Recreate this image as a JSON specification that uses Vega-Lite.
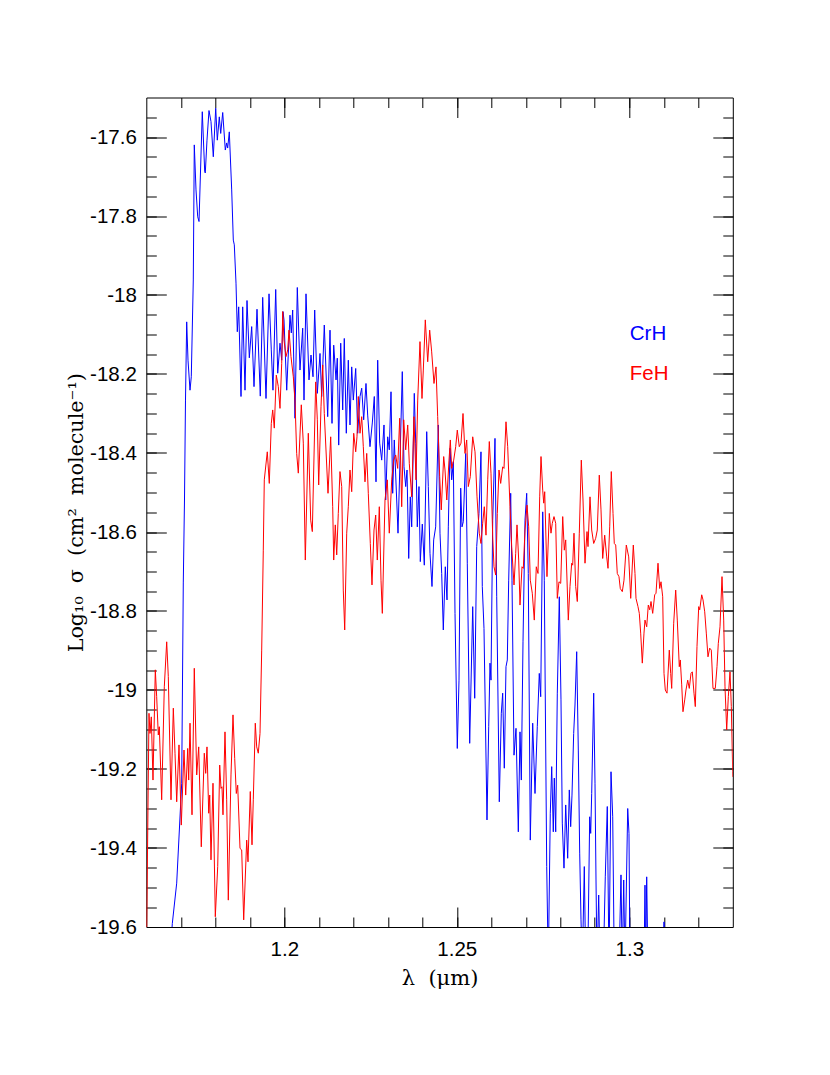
{
"$schema": "https://vega.github.io/schema/vega-lite/v6.json",
"width": 586.5,
"height": 829.5,
"autosize": {"type": "none"},
"padding": {"left": 146.3, "top": 97.5, "right": 97.2, "bottom": 148},
"background": "white",
"config": {
  "view": {"stroke": "black", "strokeWidth": 1},
  "axis": {"domain": false, "grid": false, "tickColor": "black", "tickWidth": 1, "labelColor": "black", "titleColor": "black"},
  "locale": {"number": {"decimal": ".", "thousands": ",", "grouping": [3], "currency": ["$", ""], "minus": "-"}}
},
"datasets": {
"spectra": [
{"molecule":"CrH","wavelength":1.1667,"logsigma":-19.7},
{"molecule":"CrH","wavelength":1.16754,"logsigma":-19.591},
{"molecule":"CrH","wavelength":1.16881,"logsigma":-19.489},
{"molecule":"CrH","wavelength":1.17026,"logsigma":-19.236},
{"molecule":"CrH","wavelength":1.17072,"logsigma":-18.729},
{"molecule":"CrH","wavelength":1.17107,"logsigma":-18.519},
{"molecule":"CrH","wavelength":1.17136,"logsigma":-18.266},
{"molecule":"CrH","wavelength":1.17171,"logsigma":-18.068},
{"molecule":"CrH","wavelength":1.17209,"logsigma":-18.165},
{"molecule":"CrH","wavelength":1.17267,"logsigma":-18.241},
{"molecule":"CrH","wavelength":1.17304,"logsigma":-18.207},
{"molecule":"CrH","wavelength":1.17362,"logsigma":-17.962},
{"molecule":"CrH","wavelength":1.17391,"logsigma":-17.62},
{"molecule":"CrH","wavelength":1.17441,"logsigma":-17.734},
{"molecule":"CrH","wavelength":1.1749,"logsigma":-17.802},
{"molecule":"CrH","wavelength":1.17528,"logsigma":-17.814},
{"molecule":"CrH","wavelength":1.17623,"logsigma":-17.536},
{"molecule":"CrH","wavelength":1.17693,"logsigma":-17.688},
{"molecule":"CrH","wavelength":1.1771,"logsigma":-17.691},
{"molecule":"CrH","wavelength":1.17759,"logsigma":-17.608},
{"molecule":"CrH","wavelength":1.17817,"logsigma":-17.533},
{"molecule":"CrH","wavelength":1.17875,"logsigma":-17.561},
{"molecule":"CrH","wavelength":1.17942,"logsigma":-17.65},
{"molecule":"CrH","wavelength":1.18012,"logsigma":-17.527},
{"molecule":"CrH","wavelength":1.18058,"logsigma":-17.608},
{"molecule":"CrH","wavelength":1.18116,"logsigma":-17.549},
{"molecule":"CrH","wavelength":1.18157,"logsigma":-17.591},
{"molecule":"CrH","wavelength":1.18215,"logsigma":-17.538},
{"molecule":"CrH","wavelength":1.1829,"logsigma":-17.633},
{"molecule":"CrH","wavelength":1.1833,"logsigma":-17.615},
{"molecule":"CrH","wavelength":1.18359,"logsigma":-17.628},
{"molecule":"CrH","wavelength":1.18406,"logsigma":-17.587},
{"molecule":"CrH","wavelength":1.18475,"logsigma":-17.734},
{"molecule":"CrH","wavelength":1.18522,"logsigma":-17.861},
{"molecule":"CrH","wavelength":1.18551,"logsigma":-17.873},
{"molecule":"CrH","wavelength":1.186,"logsigma":-17.97},
{"molecule":"CrH","wavelength":1.18638,"logsigma":-18.093},
{"molecule":"CrH","wavelength":1.18678,"logsigma":-18.03},
{"molecule":"CrH","wavelength":1.18745,"logsigma":-18.257},
{"molecule":"CrH","wavelength":1.18794,"logsigma":-18.03},
{"molecule":"CrH","wavelength":1.18861,"logsigma":-18.241},
{"molecule":"CrH","wavelength":1.18919,"logsigma":-18.014},
{"molecule":"CrH","wavelength":1.18986,"logsigma":-18.159},
{"molecule":"CrH","wavelength":1.19055,"logsigma":-18.08},
{"molecule":"CrH","wavelength":1.19122,"logsigma":-18.232},
{"molecule":"CrH","wavelength":1.19209,"logsigma":-18.036},
{"molecule":"CrH","wavelength":1.19304,"logsigma":-18.256},
{"molecule":"CrH","wavelength":1.19374,"logsigma":-18.006},
{"molecule":"CrH","wavelength":1.1947,"logsigma":-18.262},
{"molecule":"CrH","wavelength":1.19557,"logsigma":-17.997},
{"molecule":"CrH","wavelength":1.19623,"logsigma":-18.139},
{"molecule":"CrH","wavelength":1.19672,"logsigma":-18.241},
{"molecule":"CrH","wavelength":1.19751,"logsigma":-17.986},
{"molecule":"CrH","wavelength":1.19809,"logsigma":-18.198},
{"molecule":"CrH","wavelength":1.19875,"logsigma":-18.122},
{"molecule":"CrH","wavelength":1.19925,"logsigma":-18.165},
{"molecule":"CrH","wavelength":1.19962,"logsigma":-18.042},
{"molecule":"CrH","wavelength":1.19991,"logsigma":-18.063},
{"molecule":"CrH","wavelength":1.2007,"logsigma":-18.241},
{"molecule":"CrH","wavelength":1.20165,"logsigma":-18.051},
{"molecule":"CrH","wavelength":1.20203,"logsigma":-18.096},
{"molecule":"CrH","wavelength":1.20243,"logsigma":-18.038},
{"molecule":"CrH","wavelength":1.2031,"logsigma":-18.312},
{"molecule":"CrH","wavelength":1.20377,"logsigma":-17.981},
{"molecule":"CrH","wavelength":1.20455,"logsigma":-18.19},
{"molecule":"CrH","wavelength":1.20533,"logsigma":-18.084},
{"molecule":"CrH","wavelength":1.20571,"logsigma":-18.266},
{"molecule":"CrH","wavelength":1.20629,"logsigma":-17.997},
{"molecule":"CrH","wavelength":1.20716,"logsigma":-18.215},
{"molecule":"CrH","wavelength":1.20774,"logsigma":-18.152},
{"molecule":"CrH","wavelength":1.20832,"logsigma":-18.207},
{"molecule":"CrH","wavelength":1.20881,"logsigma":-18.038},
{"molecule":"CrH","wavelength":1.20957,"logsigma":-18.249},
{"molecule":"CrH","wavelength":1.21035,"logsigma":-18.148},
{"molecule":"CrH","wavelength":1.21084,"logsigma":-18.257},
{"molecule":"CrH","wavelength":1.21159,"logsigma":-18.076},
{"molecule":"CrH","wavelength":1.21258,"logsigma":-18.308},
{"molecule":"CrH","wavelength":1.21325,"logsigma":-18.089},
{"molecule":"CrH","wavelength":1.21383,"logsigma":-18.325},
{"molecule":"CrH","wavelength":1.21432,"logsigma":-18.127},
{"molecule":"CrH","wavelength":1.21499,"logsigma":-18.215},
{"molecule":"CrH","wavelength":1.21536,"logsigma":-18.16},
{"molecule":"CrH","wavelength":1.21577,"logsigma":-18.38},
{"molecule":"CrH","wavelength":1.21635,"logsigma":-18.122},
{"molecule":"CrH","wavelength":1.21693,"logsigma":-18.291},
{"molecule":"CrH","wavelength":1.21739,"logsigma":-18.11},
{"molecule":"CrH","wavelength":1.21797,"logsigma":-18.35},
{"molecule":"CrH","wavelength":1.21855,"logsigma":-18.165},
{"molecule":"CrH","wavelength":1.21904,"logsigma":-18.329},
{"molecule":"CrH","wavelength":1.21954,"logsigma":-18.182},
{"molecule":"CrH","wavelength":1.22,"logsigma":-18.266},
{"molecule":"CrH","wavelength":1.2207,"logsigma":-18.186},
{"molecule":"CrH","wavelength":1.22128,"logsigma":-18.35},
{"molecule":"CrH","wavelength":1.22194,"logsigma":-18.257},
{"molecule":"CrH","wavelength":1.22244,"logsigma":-18.236},
{"molecule":"CrH","wavelength":1.22301,"logsigma":-18.316},
{"molecule":"CrH","wavelength":1.22368,"logsigma":-18.224},
{"molecule":"CrH","wavelength":1.22417,"logsigma":-18.304},
{"molecule":"CrH","wavelength":1.22484,"logsigma":-18.384},
{"molecule":"CrH","wavelength":1.22551,"logsigma":-18.324},
{"molecule":"CrH","wavelength":1.22609,"logsigma":-18.257},
{"molecule":"CrH","wavelength":1.22658,"logsigma":-18.473},
{"molecule":"CrH","wavelength":1.22707,"logsigma":-18.165},
{"molecule":"CrH","wavelength":1.22765,"logsigma":-18.375},
{"molecule":"CrH","wavelength":1.22823,"logsigma":-18.418},
{"molecule":"CrH","wavelength":1.2289,"logsigma":-18.329},
{"molecule":"CrH","wavelength":1.22939,"logsigma":-18.519},
{"molecule":"CrH","wavelength":1.22997,"logsigma":-18.359},
{"molecule":"CrH","wavelength":1.23043,"logsigma":-18.392},
{"molecule":"CrH","wavelength":1.23093,"logsigma":-18.245},
{"molecule":"CrH","wavelength":1.23142,"logsigma":-18.502},
{"molecule":"CrH","wavelength":1.23188,"logsigma":-18.367},
{"molecule":"CrH","wavelength":1.23258,"logsigma":-18.519},
{"molecule":"CrH","wavelength":1.23296,"logsigma":-18.603},
{"molecule":"CrH","wavelength":1.23354,"logsigma":-18.418},
{"molecule":"CrH","wavelength":1.2342,"logsigma":-18.194},
{"molecule":"CrH","wavelength":1.2347,"logsigma":-18.435},
{"molecule":"CrH","wavelength":1.23519,"logsigma":-18.485},
{"molecule":"CrH","wavelength":1.23557,"logsigma":-18.443},
{"molecule":"CrH","wavelength":1.23606,"logsigma":-18.667},
{"molecule":"CrH","wavelength":1.23652,"logsigma":-18.511},
{"molecule":"CrH","wavelength":1.23693,"logsigma":-18.587},
{"molecule":"CrH","wavelength":1.23768,"logsigma":-18.249},
{"molecule":"CrH","wavelength":1.23809,"logsigma":-18.375},
{"molecule":"CrH","wavelength":1.23855,"logsigma":-18.587},
{"molecule":"CrH","wavelength":1.23904,"logsigma":-18.485},
{"molecule":"CrH","wavelength":1.23942,"logsigma":-18.675},
{"molecule":"CrH","wavelength":1.24,"logsigma":-18.58},
{"molecule":"CrH","wavelength":1.24058,"logsigma":-18.684},
{"molecule":"CrH","wavelength":1.24128,"logsigma":-18.346},
{"molecule":"CrH","wavelength":1.24174,"logsigma":-18.485},
{"molecule":"CrH","wavelength":1.24223,"logsigma":-18.654},
{"molecule":"CrH","wavelength":1.24281,"logsigma":-18.738},
{"molecule":"CrH","wavelength":1.2433,"logsigma":-18.62},
{"molecule":"CrH","wavelength":1.24388,"logsigma":-18.587},
{"molecule":"CrH","wavelength":1.24464,"logsigma":-18.329},
{"molecule":"CrH","wavelength":1.24513,"logsigma":-18.603},
{"molecule":"CrH","wavelength":1.24562,"logsigma":-18.705},
{"molecule":"CrH","wavelength":1.24609,"logsigma":-18.848},
{"molecule":"CrH","wavelength":1.24667,"logsigma":-18.688},
{"molecule":"CrH","wavelength":1.24716,"logsigma":-18.772},
{"molecule":"CrH","wavelength":1.24754,"logsigma":-18.587},
{"molecule":"CrH","wavelength":1.24803,"logsigma":-18.388},
{"molecule":"CrH","wavelength":1.24852,"logsigma":-18.468},
{"molecule":"CrH","wavelength":1.24899,"logsigma":-18.422},
{"molecule":"CrH","wavelength":1.24948,"logsigma":-18.806},
{"molecule":"CrH","wavelength":1.25014,"logsigma":-19.148},
{"molecule":"CrH","wavelength":1.25064,"logsigma":-18.975},
{"molecule":"CrH","wavelength":1.25113,"logsigma":-18.489},
{"molecule":"CrH","wavelength":1.25151,"logsigma":-18.587},
{"molecule":"CrH","wavelength":1.25188,"logsigma":-18.574},
{"molecule":"CrH","wavelength":1.25258,"logsigma":-18.401},
{"molecule":"CrH","wavelength":1.25304,"logsigma":-18.679},
{"molecule":"CrH","wavelength":1.25374,"logsigma":-19.135},
{"molecule":"CrH","wavelength":1.25461,"logsigma":-18.789},
{"molecule":"CrH","wavelength":1.25519,"logsigma":-19.021},
{"molecule":"CrH","wavelength":1.25577,"logsigma":-18.637},
{"molecule":"CrH","wavelength":1.25643,"logsigma":-18.553},
{"molecule":"CrH","wavelength":1.25701,"logsigma":-18.397},
{"molecule":"CrH","wavelength":1.25739,"logsigma":-18.738},
{"molecule":"CrH","wavelength":1.25788,"logsigma":-18.844},
{"molecule":"CrH","wavelength":1.25875,"logsigma":-19.329},
{"molecule":"CrH","wavelength":1.25925,"logsigma":-19.093},
{"molecule":"CrH","wavelength":1.25962,"logsigma":-18.932},
{"molecule":"CrH","wavelength":1.25991,"logsigma":-18.975},
{"molecule":"CrH","wavelength":1.26041,"logsigma":-18.57},
{"molecule":"CrH","wavelength":1.26107,"logsigma":-18.363},
{"molecule":"CrH","wavelength":1.26157,"logsigma":-18.764},
{"molecule":"CrH","wavelength":1.26232,"logsigma":-19.283},
{"molecule":"CrH","wavelength":1.2629,"logsigma":-19.059},
{"molecule":"CrH","wavelength":1.2633,"logsigma":-19.008},
{"molecule":"CrH","wavelength":1.26377,"logsigma":-19.198},
{"molecule":"CrH","wavelength":1.26426,"logsigma":-18.941},
{"molecule":"CrH","wavelength":1.26464,"logsigma":-18.924},
{"molecule":"CrH","wavelength":1.26504,"logsigma":-18.722},
{"molecule":"CrH","wavelength":1.26562,"logsigma":-18.502},
{"molecule":"CrH","wavelength":1.266,"logsigma":-18.722},
{"molecule":"CrH","wavelength":1.26658,"logsigma":-19.165},
{"molecule":"CrH","wavelength":1.26716,"logsigma":-19.097},
{"molecule":"CrH","wavelength":1.26783,"logsigma":-19.359},
{"molecule":"CrH","wavelength":1.26832,"logsigma":-19.106},
{"molecule":"CrH","wavelength":1.2687,"logsigma":-19.228},
{"molecule":"CrH","wavelength":1.26919,"logsigma":-18.878},
{"molecule":"CrH","wavelength":1.26977,"logsigma":-18.57},
{"molecule":"CrH","wavelength":1.27026,"logsigma":-18.502},
{"molecule":"CrH","wavelength":1.27072,"logsigma":-18.705},
{"molecule":"CrH","wavelength":1.2713,"logsigma":-19.38},
{"molecule":"CrH","wavelength":1.272,"logsigma":-19.084},
{"molecule":"CrH","wavelength":1.27267,"logsigma":-19.262},
{"molecule":"CrH","wavelength":1.27333,"logsigma":-19.093},
{"molecule":"CrH","wavelength":1.27391,"logsigma":-18.958},
{"molecule":"CrH","wavelength":1.27432,"logsigma":-19.017},
{"molecule":"CrH","wavelength":1.2749,"logsigma":-18.549},
{"molecule":"CrH","wavelength":1.27536,"logsigma":-18.722},
{"molecule":"CrH","wavelength":1.27606,"logsigma":-19.447},
{"molecule":"CrH","wavelength":1.27652,"logsigma":-19.7},
{"molecule":"CrH","wavelength":1.2771,"logsigma":-19.312},
{"molecule":"CrH","wavelength":1.27751,"logsigma":-19.194},
{"molecule":"CrH","wavelength":1.27797,"logsigma":-19.359},
{"molecule":"CrH","wavelength":1.27826,"logsigma":-19.223},
{"molecule":"CrH","wavelength":1.27867,"logsigma":-19.359},
{"molecule":"CrH","wavelength":1.27913,"logsigma":-19.008},
{"molecule":"CrH","wavelength":1.27971,"logsigma":-18.764},
{"molecule":"CrH","wavelength":1.2802,"logsigma":-19.025},
{"molecule":"CrH","wavelength":1.28058,"logsigma":-19.337},
{"molecule":"CrH","wavelength":1.28107,"logsigma":-19.451},
{"molecule":"CrH","wavelength":1.28157,"logsigma":-19.291},
{"molecule":"CrH","wavelength":1.28214,"logsigma":-19.426},
{"molecule":"CrH","wavelength":1.28261,"logsigma":-19.253},
{"molecule":"CrH","wavelength":1.28301,"logsigma":-19.346},
{"molecule":"CrH","wavelength":1.28339,"logsigma":-19.266},
{"molecule":"CrH","wavelength":1.28388,"logsigma":-19.11},
{"molecule":"CrH","wavelength":1.28426,"logsigma":-19.038},
{"molecule":"CrH","wavelength":1.28475,"logsigma":-18.903},
{"molecule":"CrH","wavelength":1.28522,"logsigma":-19.152},
{"molecule":"CrH","wavelength":1.28562,"logsigma":-19.413},
{"molecule":"CrH","wavelength":1.286,"logsigma":-19.582},
{"molecule":"CrH","wavelength":1.28638,"logsigma":-19.7},
{"molecule":"CrH","wavelength":1.28696,"logsigma":-19.447},
{"molecule":"CrH","wavelength":1.28736,"logsigma":-19.7},
{"molecule":"CrH","wavelength":1.28794,"logsigma":-19.7},
{"molecule":"CrH","wavelength":1.28852,"logsigma":-19.321},
{"molecule":"CrH","wavelength":1.28881,"logsigma":-19.363},
{"molecule":"CrH","wavelength":1.2891,"logsigma":-19.262},
{"molecule":"CrH","wavelength":1.28968,"logsigma":-19.008},
{"molecule":"CrH","wavelength":1.29006,"logsigma":-19.236},
{"molecule":"CrH","wavelength":1.29035,"logsigma":-19.481},
{"molecule":"CrH","wavelength":1.29064,"logsigma":-19.7},
{"molecule":"CrH","wavelength":1.29113,"logsigma":-19.519},
{"molecule":"CrH","wavelength":1.29151,"logsigma":-19.7},
{"molecule":"CrH","wavelength":1.29246,"logsigma":-19.7},
{"molecule":"CrH","wavelength":1.29304,"logsigma":-19.473},
{"molecule":"CrH","wavelength":1.29362,"logsigma":-19.295},
{"molecule":"CrH","wavelength":1.29412,"logsigma":-19.7},
{"molecule":"CrH","wavelength":1.2947,"logsigma":-19.207},
{"molecule":"CrH","wavelength":1.29519,"logsigma":-19.321},
{"molecule":"CrH","wavelength":1.29565,"logsigma":-19.7},
{"molecule":"CrH","wavelength":1.29701,"logsigma":-19.7},
{"molecule":"CrH","wavelength":1.29759,"logsigma":-19.468},
{"molecule":"CrH","wavelength":1.29797,"logsigma":-19.7},
{"molecule":"CrH","wavelength":1.29838,"logsigma":-19.481},
{"molecule":"CrH","wavelength":1.29875,"logsigma":-19.7},
{"molecule":"CrH","wavelength":1.29954,"logsigma":-19.3},
{"molecule":"CrH","wavelength":1.29991,"logsigma":-19.363},
{"molecule":"CrH","wavelength":1.3002,"logsigma":-19.7},
{"molecule":"CrH","wavelength":1.30426,"logsigma":-19.7},
{"molecule":"CrH","wavelength":1.30455,"logsigma":-19.494},
{"molecule":"CrH","wavelength":1.30475,"logsigma":-19.7},
{"molecule":"CrH","wavelength":1.30504,"logsigma":-19.473},
{"molecule":"CrH","wavelength":1.30542,"logsigma":-19.7},
{"molecule":"CrH","wavelength":1.30977,"logsigma":-19.7},
{"molecule":"CrH","wavelength":1.31006,"logsigma":-19.587},
{"molecule":"CrH","wavelength":1.31035,"logsigma":-19.7},
{"molecule":"FeH","wavelength":1.16,"logsigma":-19.7},
{"molecule":"FeH","wavelength":1.16078,"logsigma":-19.059},
{"molecule":"FeH","wavelength":1.16107,"logsigma":-19.11},
{"molecule":"FeH","wavelength":1.16145,"logsigma":-19.068},
{"molecule":"FeH","wavelength":1.16194,"logsigma":-19.228},
{"molecule":"FeH","wavelength":1.16261,"logsigma":-18.949},
{"molecule":"FeH","wavelength":1.16301,"logsigma":-19.017},
{"molecule":"FeH","wavelength":1.16348,"logsigma":-19.114},
{"molecule":"FeH","wavelength":1.16377,"logsigma":-19.093},
{"molecule":"FeH","wavelength":1.16446,"logsigma":-19.278},
{"molecule":"FeH","wavelength":1.16522,"logsigma":-18.992},
{"molecule":"FeH","wavelength":1.16591,"logsigma":-18.878},
{"molecule":"FeH","wavelength":1.16638,"logsigma":-18.966},
{"molecule":"FeH","wavelength":1.16716,"logsigma":-19.278},
{"molecule":"FeH","wavelength":1.16783,"logsigma":-19.046},
{"molecule":"FeH","wavelength":1.16832,"logsigma":-19.16},
{"molecule":"FeH","wavelength":1.16881,"logsigma":-19.283},
{"molecule":"FeH","wavelength":1.16948,"logsigma":-19.139},
{"molecule":"FeH","wavelength":1.17014,"logsigma":-19.342},
{"molecule":"FeH","wavelength":1.17093,"logsigma":-19.152},
{"molecule":"FeH","wavelength":1.17142,"logsigma":-19.266},
{"molecule":"FeH","wavelength":1.172,"logsigma":-19.148},
{"molecule":"FeH","wavelength":1.17229,"logsigma":-19.228},
{"molecule":"FeH","wavelength":1.17267,"logsigma":-19.084},
{"molecule":"FeH","wavelength":1.17325,"logsigma":-19.316},
{"molecule":"FeH","wavelength":1.17391,"logsigma":-18.945},
{"molecule":"FeH","wavelength":1.17461,"logsigma":-19.215},
{"molecule":"FeH","wavelength":1.17519,"logsigma":-19.144},
{"molecule":"FeH","wavelength":1.17594,"logsigma":-19.397},
{"molecule":"FeH","wavelength":1.17681,"logsigma":-19.16},
{"molecule":"FeH","wavelength":1.17722,"logsigma":-19.211},
{"molecule":"FeH","wavelength":1.17759,"logsigma":-19.144},
{"molecule":"FeH","wavelength":1.17809,"logsigma":-19.312},
{"molecule":"FeH","wavelength":1.17838,"logsigma":-19.266},
{"molecule":"FeH","wavelength":1.17875,"logsigma":-19.43},
{"molecule":"FeH","wavelength":1.17933,"logsigma":-19.236},
{"molecule":"FeH","wavelength":1.18,"logsigma":-19.574},
{"molecule":"FeH","wavelength":1.1807,"logsigma":-19.447},
{"molecule":"FeH","wavelength":1.18128,"logsigma":-19.19},
{"molecule":"FeH","wavelength":1.18165,"logsigma":-19.249},
{"molecule":"FeH","wavelength":1.18194,"logsigma":-19.245},
{"molecule":"FeH","wavelength":1.18223,"logsigma":-19.316},
{"molecule":"FeH","wavelength":1.18281,"logsigma":-19.106},
{"molecule":"FeH","wavelength":1.1833,"logsigma":-19.278},
{"molecule":"FeH","wavelength":1.18377,"logsigma":-19.532},
{"molecule":"FeH","wavelength":1.18455,"logsigma":-19.215},
{"molecule":"FeH","wavelength":1.18513,"logsigma":-19.063},
{"molecule":"FeH","wavelength":1.18562,"logsigma":-19.173},
{"molecule":"FeH","wavelength":1.18609,"logsigma":-19.262},
{"molecule":"FeH","wavelength":1.18649,"logsigma":-19.241},
{"molecule":"FeH","wavelength":1.18716,"logsigma":-19.401},
{"molecule":"FeH","wavelength":1.18765,"logsigma":-19.405},
{"molecule":"FeH","wavelength":1.18823,"logsigma":-19.582},
{"molecule":"FeH","wavelength":1.1891,"logsigma":-19.38},
{"molecule":"FeH","wavelength":1.18948,"logsigma":-19.435},
{"molecule":"FeH","wavelength":1.19014,"logsigma":-19.257},
{"molecule":"FeH","wavelength":1.19064,"logsigma":-19.392},
{"molecule":"FeH","wavelength":1.19101,"logsigma":-19.278},
{"molecule":"FeH","wavelength":1.19159,"logsigma":-19.084},
{"molecule":"FeH","wavelength":1.192,"logsigma":-19.144},
{"molecule":"FeH","wavelength":1.19246,"logsigma":-19.16},
{"molecule":"FeH","wavelength":1.19296,"logsigma":-19.11},
{"molecule":"FeH","wavelength":1.19345,"logsigma":-18.899},
{"molecule":"FeH","wavelength":1.19391,"logsigma":-18.646},
{"molecule":"FeH","wavelength":1.1942,"logsigma":-18.468},
{"molecule":"FeH","wavelength":1.19507,"logsigma":-18.397},
{"molecule":"FeH","wavelength":1.19565,"logsigma":-18.477},
{"molecule":"FeH","wavelength":1.19623,"logsigma":-18.325},
{"molecule":"FeH","wavelength":1.19664,"logsigma":-18.291},
{"molecule":"FeH","wavelength":1.1971,"logsigma":-18.337},
{"molecule":"FeH","wavelength":1.19768,"logsigma":-18.203},
{"molecule":"FeH","wavelength":1.19826,"logsigma":-18.232},
{"molecule":"FeH","wavelength":1.19875,"logsigma":-18.287},
{"molecule":"FeH","wavelength":1.19925,"logsigma":-18.173},
{"molecule":"FeH","wavelength":1.19954,"logsigma":-18.042},
{"molecule":"FeH","wavelength":1.19991,"logsigma":-18.114},
{"molecule":"FeH","wavelength":1.20049,"logsigma":-18.156},
{"molecule":"FeH","wavelength":1.20099,"logsigma":-18.139},
{"molecule":"FeH","wavelength":1.20136,"logsigma":-18.089},
{"molecule":"FeH","wavelength":1.20194,"logsigma":-18.156},
{"molecule":"FeH","wavelength":1.20261,"logsigma":-18.207},
{"molecule":"FeH","wavelength":1.2031,"logsigma":-18.266},
{"molecule":"FeH","wavelength":1.20359,"logsigma":-18.401},
{"molecule":"FeH","wavelength":1.20406,"logsigma":-18.451},
{"molecule":"FeH","wavelength":1.20493,"logsigma":-18.278},
{"molecule":"FeH","wavelength":1.20551,"logsigma":-18.375},
{"molecule":"FeH","wavelength":1.20609,"logsigma":-18.671},
{"molecule":"FeH","wavelength":1.20696,"logsigma":-18.35},
{"molecule":"FeH","wavelength":1.20765,"logsigma":-18.57},
{"molecule":"FeH","wavelength":1.20812,"logsigma":-18.599},
{"molecule":"FeH","wavelength":1.2091,"logsigma":-18.22},
{"molecule":"FeH","wavelength":1.20957,"logsigma":-18.316},
{"molecule":"FeH","wavelength":1.20997,"logsigma":-18.481},
{"molecule":"FeH","wavelength":1.21064,"logsigma":-18.283},
{"molecule":"FeH","wavelength":1.21113,"logsigma":-18.177},
{"molecule":"FeH","wavelength":1.21159,"logsigma":-18.3},
{"molecule":"FeH","wavelength":1.21267,"logsigma":-18.502},
{"molecule":"FeH","wavelength":1.21345,"logsigma":-18.359},
{"molecule":"FeH","wavelength":1.21403,"logsigma":-18.536},
{"molecule":"FeH","wavelength":1.21432,"logsigma":-18.671},
{"molecule":"FeH","wavelength":1.21478,"logsigma":-18.582},
{"molecule":"FeH","wavelength":1.21519,"logsigma":-18.658},
{"molecule":"FeH","wavelength":1.21565,"logsigma":-18.553},
{"molecule":"FeH","wavelength":1.21614,"logsigma":-18.447},
{"molecule":"FeH","wavelength":1.21664,"logsigma":-18.485},
{"molecule":"FeH","wavelength":1.2171,"logsigma":-18.747},
{"molecule":"FeH","wavelength":1.21751,"logsigma":-18.848},
{"molecule":"FeH","wavelength":1.21809,"logsigma":-18.603},
{"molecule":"FeH","wavelength":1.21855,"logsigma":-18.536},
{"molecule":"FeH","wavelength":1.21904,"logsigma":-18.443},
{"molecule":"FeH","wavelength":1.21954,"logsigma":-18.498},
{"molecule":"FeH","wavelength":1.22012,"logsigma":-18.35},
{"molecule":"FeH","wavelength":1.2207,"logsigma":-18.397},
{"molecule":"FeH","wavelength":1.22107,"logsigma":-18.359},
{"molecule":"FeH","wavelength":1.22145,"logsigma":-18.257},
{"molecule":"FeH","wavelength":1.22194,"logsigma":-18.35},
{"molecule":"FeH","wavelength":1.22244,"logsigma":-18.308},
{"molecule":"FeH","wavelength":1.2229,"logsigma":-18.384},
{"molecule":"FeH","wavelength":1.22339,"logsigma":-18.473},
{"molecule":"FeH","wavelength":1.22389,"logsigma":-18.401},
{"molecule":"FeH","wavelength":1.22435,"logsigma":-18.502},
{"molecule":"FeH","wavelength":1.22493,"logsigma":-18.629},
{"molecule":"FeH","wavelength":1.22542,"logsigma":-18.734},
{"molecule":"FeH","wavelength":1.226,"logsigma":-18.595},
{"molecule":"FeH","wavelength":1.22649,"logsigma":-18.557},
{"molecule":"FeH","wavelength":1.22696,"logsigma":-18.671},
{"molecule":"FeH","wavelength":1.22754,"logsigma":-18.536},
{"molecule":"FeH","wavelength":1.22803,"logsigma":-18.722},
{"molecule":"FeH","wavelength":1.22841,"logsigma":-18.806},
{"molecule":"FeH","wavelength":1.22919,"logsigma":-18.519},
{"molecule":"FeH","wavelength":1.22986,"logsigma":-18.468},
{"molecule":"FeH","wavelength":1.23043,"logsigma":-18.603},
{"molecule":"FeH","wavelength":1.23113,"logsigma":-18.468},
{"molecule":"FeH","wavelength":1.23171,"logsigma":-18.418},
{"molecule":"FeH","wavelength":1.23229,"logsigma":-18.405},
{"molecule":"FeH","wavelength":1.23287,"logsigma":-18.439},
{"molecule":"FeH","wavelength":1.23345,"logsigma":-18.312},
{"molecule":"FeH","wavelength":1.23403,"logsigma":-18.536},
{"molecule":"FeH","wavelength":1.23461,"logsigma":-18.316},
{"molecule":"FeH","wavelength":1.23519,"logsigma":-18.392},
{"molecule":"FeH","wavelength":1.23577,"logsigma":-18.329},
{"molecule":"FeH","wavelength":1.23623,"logsigma":-18.426},
{"molecule":"FeH","wavelength":1.23693,"logsigma":-18.511},
{"molecule":"FeH","wavelength":1.23759,"logsigma":-18.308},
{"molecule":"FeH","wavelength":1.23817,"logsigma":-18.468},
{"molecule":"FeH","wavelength":1.23867,"logsigma":-18.266},
{"molecule":"FeH","wavelength":1.23933,"logsigma":-18.118},
{"molecule":"FeH","wavelength":1.23991,"logsigma":-18.262},
{"molecule":"FeH","wavelength":1.24029,"logsigma":-18.19},
{"molecule":"FeH","wavelength":1.24087,"logsigma":-18.063},
{"molecule":"FeH","wavelength":1.24157,"logsigma":-18.169},
{"molecule":"FeH","wavelength":1.24214,"logsigma":-18.089},
{"molecule":"FeH","wavelength":1.24272,"logsigma":-18.144},
{"molecule":"FeH","wavelength":1.24339,"logsigma":-18.224},
{"molecule":"FeH","wavelength":1.24397,"logsigma":-18.182},
{"molecule":"FeH","wavelength":1.24446,"logsigma":-18.308},
{"molecule":"FeH","wavelength":1.24504,"logsigma":-18.46},
{"molecule":"FeH","wavelength":1.2455,"logsigma":-18.544},
{"molecule":"FeH","wavelength":1.2462,"logsigma":-18.409},
{"molecule":"FeH","wavelength":1.24658,"logsigma":-18.443},
{"molecule":"FeH","wavelength":1.2471,"logsigma":-18.519},
{"molecule":"FeH","wavelength":1.24774,"logsigma":-18.418},
{"molecule":"FeH","wavelength":1.24812,"logsigma":-18.367},
{"molecule":"FeH","wavelength":1.24852,"logsigma":-18.439},
{"molecule":"FeH","wavelength":1.2491,"logsigma":-18.418},
{"molecule":"FeH","wavelength":1.24968,"logsigma":-18.384},
{"molecule":"FeH","wavelength":1.25014,"logsigma":-18.342},
{"molecule":"FeH","wavelength":1.25072,"logsigma":-18.384},
{"molecule":"FeH","wavelength":1.25122,"logsigma":-18.375},
{"molecule":"FeH","wavelength":1.2518,"logsigma":-18.3},
{"molecule":"FeH","wavelength":1.25238,"logsigma":-18.401},
{"molecule":"FeH","wavelength":1.25287,"logsigma":-18.367},
{"molecule":"FeH","wavelength":1.25333,"logsigma":-18.485},
{"molecule":"FeH","wavelength":1.25391,"logsigma":-18.46},
{"molecule":"FeH","wavelength":1.25461,"logsigma":-18.359},
{"molecule":"FeH","wavelength":1.25528,"logsigma":-18.397},
{"molecule":"FeH","wavelength":1.25586,"logsigma":-18.511},
{"molecule":"FeH","wavelength":1.25652,"logsigma":-18.603},
{"molecule":"FeH","wavelength":1.25701,"logsigma":-18.629},
{"molecule":"FeH","wavelength":1.2575,"logsigma":-18.578},
{"molecule":"FeH","wavelength":1.25797,"logsigma":-18.536},
{"molecule":"FeH","wavelength":1.25846,"logsigma":-18.608},
{"molecule":"FeH","wavelength":1.25896,"logsigma":-18.468},
{"molecule":"FeH","wavelength":1.25942,"logsigma":-18.371},
{"molecule":"FeH","wavelength":1.25991,"logsigma":-18.451},
{"molecule":"FeH","wavelength":1.26041,"logsigma":-18.612},
{"molecule":"FeH","wavelength":1.26078,"logsigma":-18.688},
{"molecule":"FeH","wavelength":1.26128,"logsigma":-18.709},
{"molecule":"FeH","wavelength":1.26174,"logsigma":-18.553},
{"molecule":"FeH","wavelength":1.26223,"logsigma":-18.443},
{"molecule":"FeH","wavelength":1.26272,"logsigma":-18.477},
{"molecule":"FeH","wavelength":1.2633,"logsigma":-18.435},
{"molecule":"FeH","wavelength":1.26368,"logsigma":-18.439},
{"molecule":"FeH","wavelength":1.26426,"logsigma":-18.321},
{"molecule":"FeH","wavelength":1.26475,"logsigma":-18.384},
{"molecule":"FeH","wavelength":1.26542,"logsigma":-18.536},
{"molecule":"FeH","wavelength":1.26591,"logsigma":-18.637},
{"molecule":"FeH","wavelength":1.26658,"logsigma":-18.734},
{"molecule":"FeH","wavelength":1.26707,"logsigma":-18.654},
{"molecule":"FeH","wavelength":1.26745,"logsigma":-18.582},
{"molecule":"FeH","wavelength":1.26794,"logsigma":-18.671},
{"molecule":"FeH","wavelength":1.26832,"logsigma":-18.785},
{"molecule":"FeH","wavelength":1.2689,"logsigma":-18.688},
{"molecule":"FeH","wavelength":1.26928,"logsigma":-18.692},
{"molecule":"FeH","wavelength":1.26977,"logsigma":-18.595},
{"molecule":"FeH","wavelength":1.27035,"logsigma":-18.532},
{"molecule":"FeH","wavelength":1.27084,"logsigma":-18.587},
{"molecule":"FeH","wavelength":1.2713,"logsigma":-18.722},
{"molecule":"FeH","wavelength":1.27188,"logsigma":-18.755},
{"molecule":"FeH","wavelength":1.27246,"logsigma":-18.823},
{"molecule":"FeH","wavelength":1.27304,"logsigma":-18.688},
{"molecule":"FeH","wavelength":1.27354,"logsigma":-18.705},
{"molecule":"FeH","wavelength":1.27403,"logsigma":-18.511},
{"molecule":"FeH","wavelength":1.27441,"logsigma":-18.409},
{"molecule":"FeH","wavelength":1.2749,"logsigma":-18.494},
{"molecule":"FeH","wavelength":1.27519,"logsigma":-18.527},
{"molecule":"FeH","wavelength":1.27548,"logsigma":-18.498},
{"molecule":"FeH","wavelength":1.27614,"logsigma":-18.713},
{"molecule":"FeH","wavelength":1.27681,"logsigma":-18.553},
{"molecule":"FeH","wavelength":1.2773,"logsigma":-18.603},
{"molecule":"FeH","wavelength":1.27768,"logsigma":-18.578},
{"molecule":"FeH","wavelength":1.27817,"logsigma":-18.561},
{"molecule":"FeH","wavelength":1.27867,"logsigma":-18.578},
{"molecule":"FeH","wavelength":1.27913,"logsigma":-18.768},
{"molecule":"FeH","wavelength":1.27962,"logsigma":-18.726},
{"molecule":"FeH","wavelength":1.28012,"logsigma":-18.73},
{"molecule":"FeH","wavelength":1.2807,"logsigma":-18.561},
{"molecule":"FeH","wavelength":1.28116,"logsigma":-18.646},
{"molecule":"FeH","wavelength":1.28157,"logsigma":-18.62},
{"molecule":"FeH","wavelength":1.28232,"logsigma":-18.823},
{"molecule":"FeH","wavelength":1.28281,"logsigma":-18.738},
{"molecule":"FeH","wavelength":1.2833,"logsigma":-18.679},
{"molecule":"FeH","wavelength":1.28359,"logsigma":-18.684},
{"molecule":"FeH","wavelength":1.28397,"logsigma":-18.603},
{"molecule":"FeH","wavelength":1.28446,"logsigma":-18.738},
{"molecule":"FeH","wavelength":1.28493,"logsigma":-18.776},
{"molecule":"FeH","wavelength":1.28551,"logsigma":-18.603},
{"molecule":"FeH","wavelength":1.28609,"logsigma":-18.418},
{"molecule":"FeH","wavelength":1.28658,"logsigma":-18.519},
{"molecule":"FeH","wavelength":1.28716,"logsigma":-18.679},
{"molecule":"FeH","wavelength":1.28774,"logsigma":-18.599},
{"molecule":"FeH","wavelength":1.28803,"logsigma":-18.637},
{"molecule":"FeH","wavelength":1.28861,"logsigma":-18.511},
{"molecule":"FeH","wavelength":1.2891,"logsigma":-18.595},
{"molecule":"FeH","wavelength":1.28968,"logsigma":-18.629},
{"molecule":"FeH","wavelength":1.29026,"logsigma":-18.616},
{"molecule":"FeH","wavelength":1.29072,"logsigma":-18.595},
{"molecule":"FeH","wavelength":1.2913,"logsigma":-18.456},
{"molecule":"FeH","wavelength":1.2918,"logsigma":-18.544},
{"molecule":"FeH","wavelength":1.29229,"logsigma":-18.667},
{"molecule":"FeH","wavelength":1.29287,"logsigma":-18.608},
{"molecule":"FeH","wavelength":1.29345,"logsigma":-18.663},
{"molecule":"FeH","wavelength":1.29383,"logsigma":-18.692},
{"molecule":"FeH","wavelength":1.29432,"logsigma":-18.587},
{"molecule":"FeH","wavelength":1.29478,"logsigma":-18.447},
{"molecule":"FeH","wavelength":1.29528,"logsigma":-18.553},
{"molecule":"FeH","wavelength":1.29565,"logsigma":-18.629},
{"molecule":"FeH","wavelength":1.29606,"logsigma":-18.633},
{"molecule":"FeH","wavelength":1.29652,"logsigma":-18.705},
{"molecule":"FeH","wavelength":1.29701,"logsigma":-18.713},
{"molecule":"FeH","wavelength":1.29739,"logsigma":-18.743},
{"molecule":"FeH","wavelength":1.29797,"logsigma":-18.751},
{"molecule":"FeH","wavelength":1.29846,"logsigma":-18.722},
{"molecule":"FeH","wavelength":1.29913,"logsigma":-18.633},
{"molecule":"FeH","wavelength":1.29983,"logsigma":-18.663},
{"molecule":"FeH","wavelength":1.30041,"logsigma":-18.768},
{"molecule":"FeH","wavelength":1.30116,"logsigma":-18.633},
{"molecule":"FeH","wavelength":1.30165,"logsigma":-18.705},
{"molecule":"FeH","wavelength":1.30194,"logsigma":-18.768},
{"molecule":"FeH","wavelength":1.30252,"logsigma":-18.789},
{"molecule":"FeH","wavelength":1.3029,"logsigma":-18.806},
{"molecule":"FeH","wavelength":1.3033,"logsigma":-18.856},
{"molecule":"FeH","wavelength":1.30377,"logsigma":-18.932},
{"molecule":"FeH","wavelength":1.30426,"logsigma":-18.856},
{"molecule":"FeH","wavelength":1.30455,"logsigma":-18.823},
{"molecule":"FeH","wavelength":1.30504,"logsigma":-18.84},
{"molecule":"FeH","wavelength":1.30551,"logsigma":-18.785},
{"molecule":"FeH","wavelength":1.30591,"logsigma":-18.797},
{"molecule":"FeH","wavelength":1.30629,"logsigma":-18.776},
{"molecule":"FeH","wavelength":1.30678,"logsigma":-18.806},
{"molecule":"FeH","wavelength":1.30736,"logsigma":-18.759},
{"molecule":"FeH","wavelength":1.30774,"logsigma":-18.755},
{"molecule":"FeH","wavelength":1.30832,"logsigma":-18.679},
{"molecule":"FeH","wavelength":1.30881,"logsigma":-18.743},
{"molecule":"FeH","wavelength":1.30919,"logsigma":-18.726},
{"molecule":"FeH","wavelength":1.30968,"logsigma":-18.764},
{"molecule":"FeH","wavelength":1.31006,"logsigma":-18.958},
{"molecule":"FeH","wavelength":1.31043,"logsigma":-19.0},
{"molecule":"FeH","wavelength":1.31093,"logsigma":-19.008},
{"molecule":"FeH","wavelength":1.31159,"logsigma":-18.899},
{"molecule":"FeH","wavelength":1.312,"logsigma":-18.958},
{"molecule":"FeH","wavelength":1.31229,"logsigma":-18.996},
{"molecule":"FeH","wavelength":1.31287,"logsigma":-18.831},
{"molecule":"FeH","wavelength":1.31345,"logsigma":-18.747},
{"molecule":"FeH","wavelength":1.31391,"logsigma":-18.823},
{"molecule":"FeH","wavelength":1.31449,"logsigma":-18.941},
{"molecule":"FeH","wavelength":1.31478,"logsigma":-18.924},
{"molecule":"FeH","wavelength":1.31519,"logsigma":-18.987},
{"molecule":"FeH","wavelength":1.31556,"logsigma":-19.055},
{"molecule":"FeH","wavelength":1.31606,"logsigma":-19.025},
{"molecule":"FeH","wavelength":1.31643,"logsigma":-19.0},
{"molecule":"FeH","wavelength":1.31693,"logsigma":-18.975},
{"molecule":"FeH","wavelength":1.31739,"logsigma":-18.996},
{"molecule":"FeH","wavelength":1.31788,"logsigma":-18.958},
{"molecule":"FeH","wavelength":1.31826,"logsigma":-18.954},
{"molecule":"FeH","wavelength":1.31875,"logsigma":-19.008},
{"molecule":"FeH","wavelength":1.31913,"logsigma":-19.042},
{"molecule":"FeH","wavelength":1.31962,"logsigma":-18.89},
{"molecule":"FeH","wavelength":1.32012,"logsigma":-18.789},
{"molecule":"FeH","wavelength":1.32041,"logsigma":-18.797},
{"molecule":"FeH","wavelength":1.32099,"logsigma":-18.759},
{"molecule":"FeH","wavelength":1.32137,"logsigma":-18.772},
{"molecule":"FeH","wavelength":1.32186,"logsigma":-18.802},
{"molecule":"FeH","wavelength":1.32232,"logsigma":-18.856},
{"molecule":"FeH","wavelength":1.32281,"logsigma":-18.916},
{"molecule":"FeH","wavelength":1.3233,"logsigma":-18.894},
{"molecule":"FeH","wavelength":1.32377,"logsigma":-18.899},
{"molecule":"FeH","wavelength":1.32426,"logsigma":-18.996},
{"molecule":"FeH","wavelength":1.32493,"logsigma":-18.996},
{"molecule":"FeH","wavelength":1.32542,"logsigma":-18.941},
{"molecule":"FeH","wavelength":1.3258,"logsigma":-18.882},
{"molecule":"FeH","wavelength":1.32629,"logsigma":-18.84},
{"molecule":"FeH","wavelength":1.32687,"logsigma":-18.713},
{"molecule":"FeH","wavelength":1.32736,"logsigma":-18.823},
{"molecule":"FeH","wavelength":1.32774,"logsigma":-18.992},
{"molecule":"FeH","wavelength":1.32823,"logsigma":-19.101},
{"molecule":"FeH","wavelength":1.3287,"logsigma":-19.017},
{"molecule":"FeH","wavelength":1.32919,"logsigma":-18.954},
{"molecule":"FeH","wavelength":1.32957,"logsigma":-19.042},
{"molecule":"FeH","wavelength":1.32997,"logsigma":-19.207},
{"molecule":"FeH","wavelength":1.33,"logsigma":-19.22}
]
},
"data": {"name": "spectra"},
"resolve": {"axis": {"x": "independent", "y": "independent"}},
"layer": [
{
  "mark": {"type": "line", "strokeWidth": 1, "clip": true, "interpolate": "linear"},
  "encoding": {
    "x": {"field": "wavelength", "type": "quantitative", "scale": {"domain": [1.16, 1.33], "nice": false, "zero": false},
      "axis": {"orient": "bottom", "values": [1.2, 1.25, 1.3], "format": "~g", "ticks": false, "labelPadding": 12, "labelFont": "Liberation Sans", "labelFontSize": 20.5, "title": "λ\u00a0\u00a0(μm)", "titleFont": "DejaVu Serif", "titleFontSize": 21, "titleFontWeight": "normal", "titlePadding": 8}},
    "y": {"field": "logsigma", "type": "quantitative", "scale": {"domain": [-19.6, -17.5], "nice": false, "zero": false},
      "axis": {"orient": "left", "values": [-17.6, -17.8, -18, -18.2, -18.4, -18.6, -18.8, -19, -19.2, -19.4, -19.6], "format": "~g", "ticks": false, "labelPadding": 10, "labelFont": "Liberation Sans", "labelFontSize": 20.5, "title": "Log₁₀\u00a0\u00a0σ\u00a0\u00a0(cm²\u00a0\u00a0molecule⁻¹)", "titleFont": "DejaVu Serif", "titleFontSize": 20.7, "titleFontWeight": "normal", "titlePadding": 3}},
    "color": {"field": "molecule", "type": "nominal", "scale": {"domain": ["CrH", "FeH"], "range": ["#0000ff", "#ff0000"]},
      "legend": {"orient": "none", "legendX": 463, "legendY": 226, "title": null, "padding": 0, "symbolSize": 0, "symbolStrokeWidth": 0, "symbolOpacity": 0, "labelOffset": 0, "labelFont": "Liberation Sans", "labelFontSize": 20.5, "rowPadding": 19, "labelColor": {"expr": "datum.value === 'CrH' ? '#0000ff' : '#ff0000'"}}}
  }
},
{
  "mark": {"type": "line", "strokeOpacity": 0},
  "encoding": {
    "x": {"field": "wavelength", "type": "quantitative", "axis": {"orient": "bottom", "values": [1.2, 1.25, 1.3], "labels": false, "title": null, "tickSize": -20}},
    "y": {"field": "logsigma", "type": "quantitative", "axis": {"orient": "left", "values": [-17.6, -17.8, -18, -18.2, -18.4, -18.6, -18.8, -19, -19.2, -19.4], "labels": false, "title": null, "tickSize": -20}}
  }
},
{
  "mark": {"type": "line", "strokeOpacity": 0},
  "encoding": {
    "x": {"field": "wavelength", "type": "quantitative", "axis": {"orient": "bottom", "values": [1.17, 1.18, 1.19, 1.2, 1.21, 1.22, 1.23, 1.24, 1.25, 1.26, 1.27, 1.28, 1.29, 1.3, 1.31, 1.32], "labels": false, "title": null, "tickSize": -10}},
    "y": {"field": "logsigma", "type": "quantitative", "axis": {"orient": "left", "values": [-17.55, -17.6, -17.65, -17.7, -17.75, -17.8, -17.85, -17.9, -17.95, -18, -18.05, -18.1, -18.15, -18.2, -18.25, -18.3, -18.35, -18.4, -18.45, -18.5, -18.55, -18.6, -18.65, -18.7, -18.75, -18.8, -18.85, -18.9, -18.95, -19, -19.05, -19.1, -19.15, -19.2, -19.25, -19.3, -19.35, -19.4, -19.45, -19.5, -19.55], "labels": false, "title": null, "tickSize": -10}}
  }
},
{
  "mark": {"type": "line", "strokeOpacity": 0},
  "encoding": {
    "x": {"field": "wavelength", "type": "quantitative", "axis": {"orient": "top", "values": [1.2, 1.25, 1.3], "labels": false, "title": null, "tickSize": -20}},
    "y": {"field": "logsigma", "type": "quantitative", "axis": {"orient": "right", "values": [-17.6, -17.8, -18, -18.2, -18.4, -18.6, -18.8, -19, -19.2, -19.4], "labels": false, "title": null, "tickSize": -20}}
  }
},
{
  "mark": {"type": "line", "strokeOpacity": 0},
  "encoding": {
    "x": {"field": "wavelength", "type": "quantitative", "axis": {"orient": "top", "values": [1.17, 1.18, 1.19, 1.2, 1.21, 1.22, 1.23, 1.24, 1.25, 1.26, 1.27, 1.28, 1.29, 1.3, 1.31, 1.32], "labels": false, "title": null, "tickSize": -10}},
    "y": {"field": "logsigma", "type": "quantitative", "axis": {"orient": "right", "values": [-17.55, -17.6, -17.65, -17.7, -17.75, -17.8, -17.85, -17.9, -17.95, -18, -18.05, -18.1, -18.15, -18.2, -18.25, -18.3, -18.35, -18.4, -18.45, -18.5, -18.55, -18.6, -18.65, -18.7, -18.75, -18.8, -18.85, -18.9, -18.95, -19, -19.05, -19.1, -19.15, -19.2, -19.25, -19.3, -19.35, -19.4, -19.45, -19.5, -19.55], "labels": false, "title": null, "tickSize": -10}}
  }
}
]
}
